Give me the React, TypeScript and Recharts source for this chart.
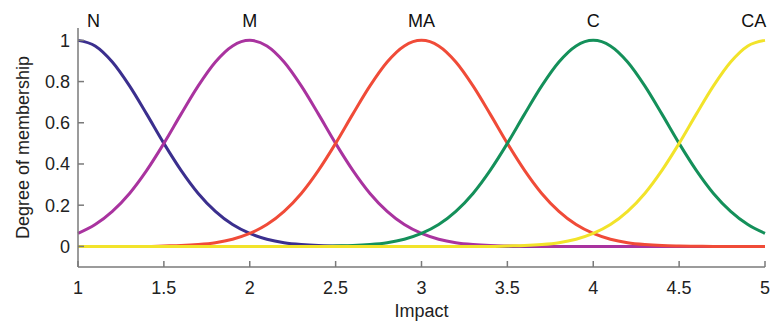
import React from 'react';
import { LineChart, Line, XAxis, YAxis, ReferenceDot } from 'recharts';

// x positions of the samples (Impact)
const impact = [
  1, 1.1, 1.2, 1.3, 1.4, 1.5, 1.6, 1.7, 1.8, 1.9,
  2, 2.1, 2.2, 2.3, 2.4, 2.5, 2.6, 2.7, 2.8, 2.9,
  3, 3.1, 3.2, 3.3, 3.4, 3.5, 3.6, 3.7, 3.8, 3.9,
  4, 4.1, 4.2, 4.3, 4.4, 4.5, 4.6, 4.7, 4.8, 4.9, 5,
];

// degree of membership
const nVals = [
  1, 0.973, 0.895, 0.779, 0.642, 0.5, 0.369, 0.257, 0.17, 0.106,
  0.063, 0.035, 0.018, 0.009, 0.004, 0.002, 0.001, 0, 0, 0,
  0, 0, 0, 0, 0, 0, 0, 0, 0, 0,
  0, 0, 0, 0, 0, 0, 0, 0, 0, 0, 0,
];
const mVals = [
  0.063, 0.106, 0.17, 0.257, 0.369, 0.5, 0.642, 0.779, 0.895, 0.973,
  1, 0.973, 0.895, 0.779, 0.642, 0.5, 0.369, 0.257, 0.17, 0.106,
  0.063, 0.035, 0.018, 0.009, 0.004, 0.002, 0.001, 0, 0, 0,
  0, 0, 0, 0, 0, 0, 0, 0, 0, 0, 0,
];
const maVals = [
  0, 0, 0, 0, 0, 0.002, 0.004, 0.009, 0.018, 0.035,
  0.063, 0.106, 0.17, 0.257, 0.369, 0.5, 0.642, 0.779, 0.895, 0.973,
  1, 0.973, 0.895, 0.779, 0.642, 0.5, 0.369, 0.257, 0.17, 0.106,
  0.063, 0.035, 0.018, 0.009, 0.004, 0.002, 0.001, 0, 0, 0, 0,
];
const cVals = [
  0, 0, 0, 0, 0, 0, 0, 0, 0, 0,
  0, 0, 0, 0, 0, 0.002, 0.004, 0.009, 0.018, 0.035,
  0.063, 0.106, 0.17, 0.257, 0.369, 0.5, 0.642, 0.779, 0.895, 0.973,
  1, 0.973, 0.895, 0.779, 0.642, 0.5, 0.369, 0.257, 0.17, 0.106, 0.063,
];
const caVals = [
  0, 0, 0, 0, 0, 0, 0, 0, 0, 0,
  0, 0, 0, 0, 0, 0, 0, 0, 0, 0,
  0, 0, 0, 0, 0, 0.002, 0.004, 0.009, 0.018, 0.035,
  0.063, 0.106, 0.17, 0.257, 0.369, 0.5, 0.642, 0.779, 0.895, 0.973, 1,
];

const xTicks = [1, 1.5, 2, 2.5, 3, 3.5, 4, 4.5, 5];
const yTicks = [0, 0.2, 0.4, 0.6, 0.8, 1];

// set names and where their captions sit along the x axis
const setNames = ['N', 'M', 'MA', 'C', 'CA'];
const namePos = [1.09, 2, 3, 4, 4.935];

const series = [
  { key: 'N', color: '#3b2f8e' },
  { key: 'M', color: '#a9339f' },
  { key: 'MA', color: '#f04b38' },
  { key: 'C', color: '#14905a' },
  { key: 'CA', color: '#f2e32a' },
];

const data = impact.map((x, i) => ({
  x,
  N: nVals[i],
  M: mVals[i],
  MA: maVals[i],
  C: cVals[i],
  CA: caVals[i],
}));

const font = '"Liberation Sans", Arial, sans-serif';
const tickStyle = { fontSize: 18, fill: '#222', fontFamily: font };

const YLabel = ({ viewBox }: any) => {
  const cx = viewBox.x + 23;
  const cy = viewBox.y + viewBox.height / 2;
  return (
    <text
      x={cx}
      y={cy}
      transform={`rotate(-90, ${cx}, ${cy})`}
      textAnchor="middle"
      dominantBaseline="central"
      fontSize={18}
      fontFamily={font}
      fill="#222"
    >
      Degree of membership
    </text>
  );
};

export default function App() {
  return (
    <div style={{ position: 'absolute', left: 0, top: 0, background: '#fff' }}>
      <LineChart
        width={775}
        height={327}
        data={data}
        margin={{ top: 28, right: 10, bottom: 0, left: 0 }}
      >
        <XAxis
          dataKey="x"
          type="number"
          domain={[1, 5]}
          ticks={xTicks}
          tickSize={-6}
          tickMargin={20}
          tick={tickStyle}
          stroke="#7a7a7a"
          strokeWidth={1.5}
          height={60}
          label={{
            value: 'Impact',
            position: 'insideTop',
            offset: 37,
            style: { fontSize: 18, fill: '#222', fontFamily: font },
          }}
        />
        <YAxis
          type="number"
          domain={[-0.1, 1.06]}
          ticks={yTicks}
          tickSize={-6}
          tickMargin={14}
          tick={tickStyle}
          stroke="#7a7a7a"
          strokeWidth={1.5}
          width={78}
          label={<YLabel />}
        />
        {series.map((s) => (
          <Line
            key={s.key}
            dataKey={s.key}
            type="monotone"
            stroke={s.color}
            strokeWidth={3}
            dot={false}
            isAnimationActive={false}
          />
        ))}
        {setNames.map((name, i) => (
          <ReferenceDot
            key={name}
            x={namePos[i]}
            y={1.06}
            r={0}
            stroke="none"
            fill="none"
            label={{
              value: name,
              position: 'top',
              offset: 1,
              style: { fontSize: 18, fill: '#111', fontFamily: font },
            }}
          />
        ))}
      </LineChart>
    </div>
  );
}
